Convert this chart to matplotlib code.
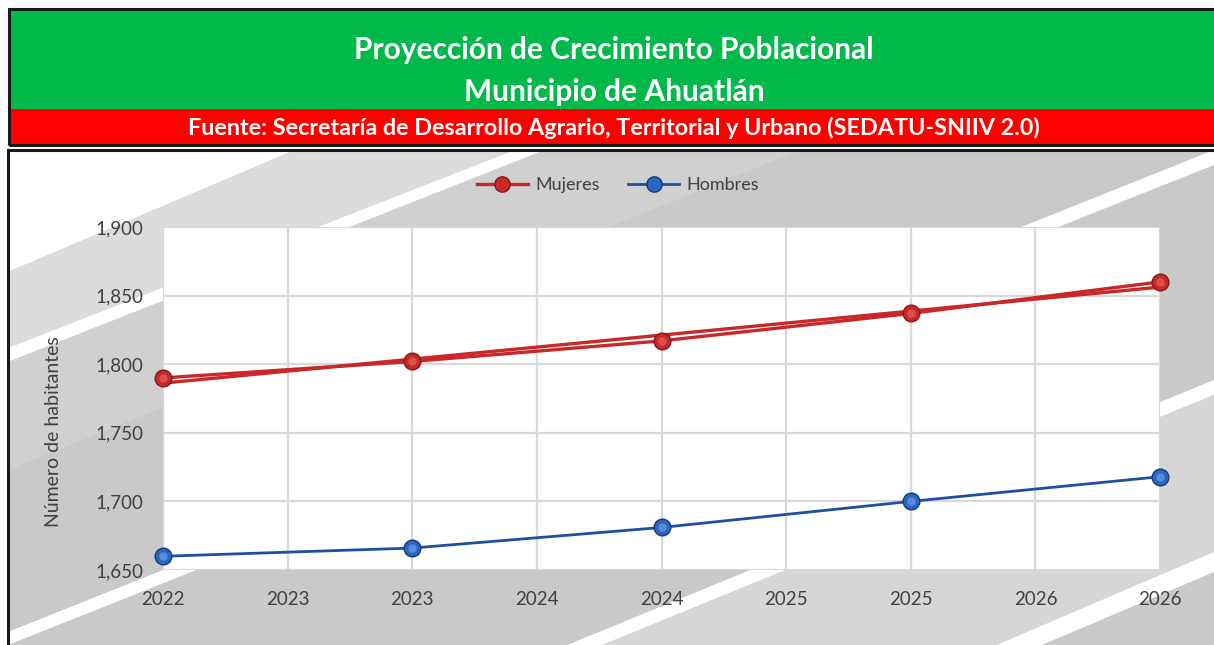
import numpy as np
import matplotlib
matplotlib.use("Agg")
import matplotlib.pyplot as plt
from matplotlib.patches import Rectangle, Polygon
from matplotlib.ticker import FuncFormatter

plt.rcParams['font.family'] = ['Lato', 'DejaVu Sans']

# datos
anios = ['2022', '2023', '2024', '2025', '2026']
etiquetas_x = ['2022', '2023', '2023', '2024', '2024', '2025', '2025', '2026', '2026']
mujeres = [1790, 1802, 1817, 1837, 1860]
hombres = [1660, 1666, 1681, 1700, 1718]

titulo1 = 'Proyección de Crecimiento Poblacional'
titulo2 = 'Municipio de Ahuatlán'
fuente = 'Fuente: Secretaría de Desarrollo Agrario, Territorial y Urbano (SEDATU-SNIIV 2.0)'

W, H = 1214, 645
fig = plt.figure(figsize=(W / 100, H / 100), dpi=100)
fig.patch.set_facecolor('white')


def px(x, y):
    # pixeles (desde arriba) -> fracción de figura
    return (x / W, 1 - y / H)


def rect_px(x0, y0, x1, y1, **kw):
    a = px(x0, y1)
    return Rectangle(a, (x1 - x0) / W, (y1 - y0) / H, transform=fig.transFigure, **kw)


def poly_px(pts, **kw):
    return Polygon([px(x, y) for x, y in pts], closed=True, transform=fig.transFigure, **kw)


# ---- encabezado ----
fig.patches.append(rect_px(9, 9, 1216, 109, facecolor='#00B94A', edgecolor='none', zorder=1))
fig.patches.append(rect_px(9, 109, 1216, 145, facecolor='#FF0000', edgecolor='none', zorder=1))
fig.patches.append(rect_px(9, 9, 1216, 145, facecolor='none', edgecolor='#1a1a1a', lw=2.2, zorder=2))

fig.text(0.506, px(0, 50)[1], titulo1, ha='center', va='center', color='white',
         fontsize=21.5, fontweight='bold')
fig.text(0.506, px(0, 92)[1], titulo2, ha='center', va='center', color='white',
         fontsize=21.5, fontweight='bold')
fig.text(0.506, px(0, 128)[1], fuente, ha='center', va='center', color='white',
         fontsize=16.8, fontweight='bold')

# ---- fondo del área de gráfica ----
caja = rect_px(8, 150, 1218, 650, facecolor='#c9c9c9', edgecolor='none', zorder=1)
fig.patches.append(caja)
fondo = [
    poly_px([(8, 150), (295, 150), (8, 272)], facecolor='white', edgecolor='none'),
    poly_px([(295, 150), (515, 150), (8, 348), (8, 272)], facecolor='#dcdcdc', edgecolor='none'),
    poly_px([(515, 150), (545, 150), (8, 362), (8, 348)], facecolor='white', edgecolor='none'),
    poly_px([(545, 150), (800, 150), (8, 470), (8, 362)], facecolor='#d0d0d0', edgecolor='none'),
    poly_px([(8, 632), (1214, 150), (1214, 165), (8, 645)], facecolor='white', edgecolor='none'),
    poly_px([(555, 650), (1214, 380), (1214, 395), (590, 650)], facecolor='white', edgecolor='none'),
    poly_px([(590, 650), (1214, 395), (1214, 552), (985, 650)], facecolor='#d6d6d6', edgecolor='none'),
    poly_px([(985, 650), (1214, 552), (1214, 572), (1030, 650)], facecolor='white', edgecolor='none'),
]
for p in fondo:
    p.set_zorder(2)
    p.set_clip_path(caja)
    fig.patches.append(p)
fig.patches.append(rect_px(8, 150, 1218, 652, facecolor='none', edgecolor='#1a1a1a', lw=2.2, zorder=3))

# ---- gráfica ----
ax = fig.add_axes([163 / W, 1 - 570 / H, (1160 - 163) / W, (570 - 227) / H], zorder=5)
ax.set_facecolor('white')

x_etq = np.arange(len(etiquetas_x))
x_dat = np.arange(len(anios)) * 2

rojo = '#c8282a'
azul = '#1f4fa0'

# línea de tendencia lineal de Mujeres
coef = np.polyfit(x_dat, mujeres, 1)
ax.plot(x_dat, np.polyval(coef, x_dat), color=rojo, lw=2.4, zorder=3, clip_on=False)

ax.plot(x_dat, mujeres, color=rojo, lw=2.4, marker='o', markersize=12,
        markerfacecolor='#c62a2a', markeredgecolor='#8a1616', markeredgewidth=1,
        zorder=4, clip_on=False, label='Mujeres')
ax.plot(x_dat, mujeres, ls='none', marker='o', markersize=6,
        markerfacecolor='#e86060', markeredgecolor='none', alpha=0.7, zorder=5, clip_on=False)

ax.plot(x_dat, hombres, color=azul, lw=2, marker='o', markersize=12,
        markerfacecolor='#2b66c0', markeredgecolor='#163a78', markeredgewidth=1,
        zorder=4, clip_on=False, label='Hombres')
ax.plot(x_dat, hombres, ls='none', marker='o', markersize=6,
        markerfacecolor='#6a9ee6', markeredgecolor='none', alpha=0.7, zorder=5, clip_on=False)

ax.set_xlim(0, 8)
ax.set_ylim(1650, 1900)
ax.set_xticks(x_etq)
ax.set_xticklabels(etiquetas_x)
ax.set_yticks(np.arange(1650, 1901, 50))
ax.yaxis.set_major_formatter(FuncFormatter(lambda v, p: f'{v:,.0f}'))

ax.grid(True, color='#d9d9d9', lw=1.6)
ax.set_axisbelow(True)
for s in ax.spines.values():
    s.set_visible(False)
ax.tick_params(axis='both', length=0, labelsize=13.5, labelcolor='#404040')
ax.tick_params(axis='x', pad=15)
ax.tick_params(axis='y', pad=14)

ax.set_ylabel('Número de habitantes', fontsize=14, color='#404040')
ax.yaxis.set_label_coords((62 - 163) / 997, (570 - 432) / 343)

leg = fig.legend(handles=ax.get_lines()[1:4:2], labels=['Mujeres', 'Hombres'],
                 loc='center', bbox_to_anchor=px(618, 185), ncol=2, frameon=False,
                 fontsize=13, handlelength=2.8, columnspacing=1.6, handletextpad=0.4)
for t in leg.get_texts():
    t.set_color('#404040')
for h in leg.legend_handles:
    h.set_markersize(11)

fig.savefig('out.png', dpi=100)
